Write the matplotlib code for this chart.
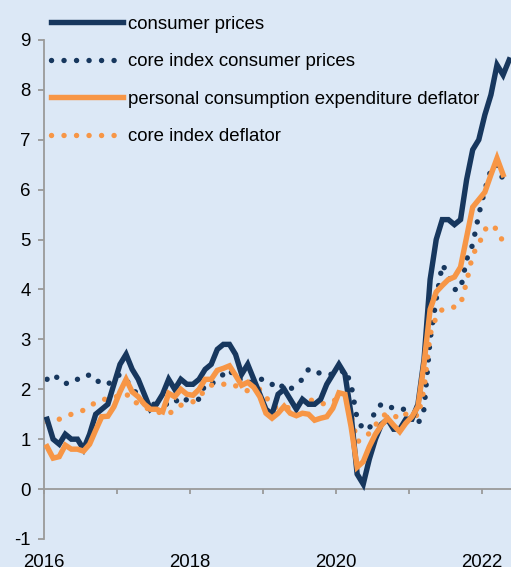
import numpy as np
import matplotlib
matplotlib.use('Agg')
from matplotlib import pyplot as plt

plt.rcParams['font.family'] = ['Liberation Sans', 'DejaVu Sans']
plt.rcParams['axes.unicode_minus'] = False

# monthly year-on-year rates, Jan 2016 onwards
cpi = [1.4, 1.0, 0.9, 1.1, 1.0, 1.0, 0.8, 1.1, 1.5, 1.6, 1.7, 2.1,
       2.5, 2.7, 2.4, 2.2, 1.9, 1.6, 1.7, 1.9, 2.2, 2.0, 2.2, 2.1,
       2.1, 2.2, 2.4, 2.5, 2.8, 2.9, 2.9, 2.7, 2.3, 2.5, 2.2, 1.9,
       1.6, 1.5, 1.9, 2.0, 1.8, 1.6, 1.8, 1.7, 1.7, 1.8, 2.1, 2.3,
       2.5, 2.3, 1.5, 0.3, 0.1, 0.6, 1.0, 1.3, 1.4, 1.2, 1.2, 1.4,
       1.4, 1.7, 2.6, 4.2, 5.0, 5.4, 5.4, 5.3, 5.4, 6.2, 6.8, 7.0,
       7.5, 7.9, 8.5, 8.3, 8.6]
core_cpi = [2.2, 2.3, 2.2, 2.1, 2.2, 2.2, 2.2, 2.3, 2.2, 2.1, 2.1, 2.2,
            2.3, 2.2, 2.0, 1.9, 1.7, 1.7, 1.7, 1.7, 1.7, 1.8, 1.7, 1.8,
            1.8, 1.8, 2.1, 2.1, 2.2, 2.3, 2.4, 2.2, 2.2, 2.1, 2.2, 2.2,
            2.2, 2.1, 2.0, 2.1, 2.0, 2.1, 2.2, 2.4, 2.4, 2.3, 2.3, 2.3,
            2.3, 2.4, 2.1, 1.4, 1.2, 1.2, 1.6, 1.7, 1.7, 1.6, 1.6, 1.6,
            1.4, 1.3, 1.6, 3.0, 3.8, 4.5, 4.3, 4.0, 4.0, 4.6, 4.9, 5.5,
            6.0, 6.4, 6.5, 6.2]
pce = [0.85, 0.62, 0.65, 0.88, 0.8, 0.8, 0.76, 0.9, 1.18, 1.45, 1.46, 1.65,
       1.95, 2.2, 1.95, 1.85, 1.7, 1.6, 1.6, 1.55, 1.92, 1.85, 2.0, 1.9,
       1.88, 2.0, 2.2, 2.2, 2.38, 2.42, 2.47, 2.28, 2.08, 2.14, 2.04, 1.85,
       1.52, 1.42, 1.52, 1.66, 1.52, 1.47, 1.52, 1.5, 1.38, 1.42, 1.45, 1.62,
       1.93, 1.9, 1.25, 0.44, 0.55, 0.85, 1.1, 1.28, 1.42, 1.28, 1.15, 1.32,
       1.45, 1.65, 2.52, 3.6, 3.95, 4.08, 4.2, 4.25, 4.45, 5.05, 5.65, 5.8,
       5.95, 6.3, 6.63, 6.3]
core_pce = [1.35, 1.37, 1.4, 1.45, 1.5, 1.54, 1.58, 1.67, 1.73, 1.8, 1.8, 1.82,
            1.9, 1.92, 1.75, 1.72, 1.65, 1.58, 1.55, 1.52, 1.5, 1.6, 1.68, 1.72,
            1.75, 1.85, 1.98, 2.08, 2.12, 2.1, 2.12, 2.07, 2.0, 1.97, 2.0, 2.0,
            1.85, 1.66, 1.62, 1.62, 1.64, 1.68, 1.75, 1.78, 1.78, 1.72, 1.7, 1.75,
            1.85, 1.9, 1.5, 0.95, 1.0, 1.12, 1.28, 1.45, 1.52, 1.48, 1.4, 1.5,
            1.55, 1.45, 2.0, 3.1, 3.45, 3.6, 3.62, 3.65, 3.7, 4.15, 4.7, 4.9,
            5.2, 5.3, 5.2, 4.95]
labels = ['consumer prices', 'core index consumer prices',
          'personal consumption expenditure deflator', 'core index deflator']
years = [2016, 2017, 2018, 2019, 2020, 2021, 2022]
year_labels = ['2016', '', '2018', '', '2020', '', '2022']

navy = '#17375e'
orange = '#f79646'
bg = '#dce8f6'
grey = '#9a9a9a'


def months(series):
    return 2016 + (np.arange(len(series)) + 0.5) / 12


fig = plt.figure(figsize=(5.11, 5.67), dpi=100, facecolor=bg)
ax = fig.add_axes([0.0861, 0.0494, 1 - 0.0861, 0.8801], facecolor=bg)

dots = (0, (0.01, 2.3))
ax.plot(months(cpi), cpi, color=navy, lw=3.9, solid_joinstyle='miter', label=labels[0], zorder=3)
ax.plot(months(core_cpi), core_cpi, color=navy, lw=3.9, ls=dots, dash_capstyle='round', label=labels[1], zorder=2)
ax.plot(months(pce), pce, color=orange, lw=3.9, solid_joinstyle='miter', label=labels[2], zorder=4)
ax.plot(months(core_pce), core_pce, color=orange, lw=3.9, ls=dots, dash_capstyle='round', label=labels[3], zorder=2)

ax.set_xlim(2016, 2022.4)
ax.set_ylim(-1, 9)
ax.set_yticks(range(-1, 10))
ax.set_xticks(years)
ax.set_xticklabels(year_labels)

for s in ['top', 'right']:
    ax.spines[s].set_visible(False)
ax.spines['bottom'].set_position(('data', 0))
for s in ['left', 'bottom']:
    ax.spines[s].set_color(grey)
    ax.spines[s].set_linewidth(1.3)
ax.tick_params(axis='y', length=4.3, width=1.3, color=grey, pad=5.5, labelsize=13.4)
ax.tick_params(axis='x', length=3.6, width=1.3, color=grey, pad=43, labelsize=13.4)

fig.legend(loc='upper left', bbox_to_anchor=(0.1, 0.972), frameon=False,
           fontsize=13.4, handlelength=3.85, handletextpad=0.3, labelspacing=1.1,
           borderpad=0, borderaxespad=0)

fig.savefig('out.png', dpi=100, facecolor=bg)
